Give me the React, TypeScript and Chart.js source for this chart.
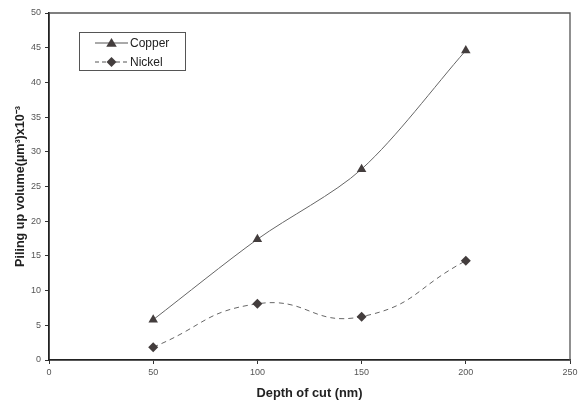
import React, { useEffect, useRef } from "react";
import { Chart, registerables } from "chart.js";

Chart.register(...registerables);

const depthOfCut = [50, 100, 150, 200];
const copperValues = [5.8, 17.4, 27.5, 44.6];
const nickelValues = [1.85, 8.1, 6.25, 14.3];
const xTicks = [0, 50, 100, 150, 200, 250];
const yTicks = [0, 5, 10, 15, 20, 25, 30, 35, 40, 45, 50];
const seriesNames = ["Copper", "Nickel"];
const xTitle = "Depth of cut (nm)";
const yTitle = "Piling up volume(\u00b5m\u00b3)x10\u207b\u00b3";

const FONT = "'Liberation Sans', Arial, sans-serif";
const MARK = "#433d3d";

function drawMarker(ctx: CanvasRenderingContext2D, style: string, x: number, y: number, r: number) {
  ctx.beginPath();
  if (style === "triangle") {
    ctx.moveTo(x, y - r);
    ctx.lineTo(x + r * 1.05, y + r * 0.75);
    ctx.lineTo(x - r * 1.05, y + r * 0.75);
  } else {
    ctx.moveTo(x, y - r);
    ctx.lineTo(x + r, y);
    ctx.lineTo(x, y + r);
    ctx.lineTo(x - r, y);
  }
  ctx.closePath();
  ctx.fill();
}

const framePlugin = {
  id: "frame",
  afterDraw(chart: any) {
    const { ctx, chartArea: a } = chart;
    ctx.save();
    ctx.strokeStyle = "#555";
    ctx.lineWidth = 1.3;
    ctx.beginPath();
    ctx.moveTo(a.left, a.top);
    ctx.lineTo(a.right, a.top);
    ctx.lineTo(a.right, a.bottom);
    ctx.stroke();
    const bx = 79, by = 32, bw = 106, bh = 38;
    ctx.fillStyle = "#fff";
    ctx.fillRect(bx, by, bw, bh);
    ctx.strokeStyle = "#555";
    ctx.lineWidth = 1;
    ctx.strokeRect(bx + 0.5, by + 0.5, bw, bh);
    const rows = [
      { y: 43, dash: [] as number[], style: "triangle" },
      { y: 62, dash: [4, 3], style: "rectRot" },
    ];
    rows.forEach((r, i) => {
      ctx.strokeStyle = "#555";
      ctx.lineWidth = 1;
      ctx.setLineDash(r.dash);
      ctx.beginPath();
      ctx.moveTo(95, r.y);
      ctx.lineTo(128, r.y);
      ctx.stroke();
      ctx.setLineDash([]);
      ctx.fillStyle = MARK;
      drawMarker(ctx, r.style, 111.5, r.y, 5);
      ctx.fillStyle = "#222";
      ctx.font = `12px ${FONT}`;
      ctx.textBaseline = "middle";
      ctx.textAlign = "left";
      ctx.fillText(seriesNames[i], 130, r.y + 0.5);
    });
    ctx.restore();
  },
};

export default function App() {
  const ref = useRef<HTMLCanvasElement>(null);
  useEffect(() => {
    document.body.style.margin = "0";
    const chart = new Chart(ref.current!, {
      type: "line",
      data: {
        datasets: [
          {
            label: seriesNames[0],
            data: depthOfCut.map((x, i) => ({ x, y: copperValues[i] })),
            borderColor: "#666",
            borderWidth: 1,
            pointStyle: "triangle",
            pointRadius: 5.5,
            pointBackgroundColor: MARK,
            pointBorderColor: MARK,
            pointBorderWidth: 0,
            tension: 0.3,
          },
          {
            label: seriesNames[1],
            data: depthOfCut.map((x, i) => ({ x, y: nickelValues[i] })),
            borderColor: "#666",
            borderWidth: 1,
            borderDash: [5, 4],
            pointStyle: "rectRot",
            pointRadius: 5,
            pointBackgroundColor: MARK,
            pointBorderColor: MARK,
            pointBorderWidth: 0,
            tension: 0.5,
          },
        ],
      },
      options: {
        animation: false,
        responsive: false,
        maintainAspectRatio: false,
        layout: { padding: { left: 0, right: 11, top: 13, bottom: 0 } },
        plugins: { legend: { display: false }, tooltip: { enabled: false } },
        scales: {
          x: {
            type: "linear",
            min: 0,
            max: 250,
            afterBuildTicks: (s: any) => {
              s.ticks = xTicks.map((v) => ({ value: v }));
            },
            afterFit: (s: any) => {
              s.height = 43;
            },
            grid: { drawOnChartArea: false, tickLength: 4, color: "#333", tickWidth: 1 },
            border: { color: "#222", width: 1.8 },
            ticks: { color: "#555", font: { family: FONT, size: 9 }, padding: 3, maxRotation: 0 },
            title: {
              display: true,
              text: xTitle,
              color: "#222",
              font: { family: FONT, size: 12.8, weight: "bold" },
              padding: { top: 4, bottom: 2 },
            },
          },
          y: {
            type: "linear",
            min: 0,
            max: 50,
            afterBuildTicks: (s: any) => {
              s.ticks = yTicks.map((v) => ({ value: v }));
            },
            afterFit: (s: any) => {
              s.width = 49;
            },
            grid: { drawOnChartArea: false, tickLength: 4, color: "#333", tickWidth: 1 },
            border: { color: "#222", width: 1.8 },
            ticks: { color: "#555", font: { family: FONT, size: 9 }, padding: 4 },
            title: {
              display: true,
              text: yTitle,
              color: "#222",
              font: { family: FONT, size: 12.6, weight: "bold" },
              padding: { top: 13, bottom: 0 },
            },
          },
        },
      },
      plugins: [framePlugin],
    } as any);
    return () => chart.destroy();
  }, []);
  return (
    <div style={{ width: 581, height: 403 }}>
      <canvas ref={ref} width={581} height={403} style={{ width: 581, height: 403, display: "block" }} />
    </div>
  );
}
